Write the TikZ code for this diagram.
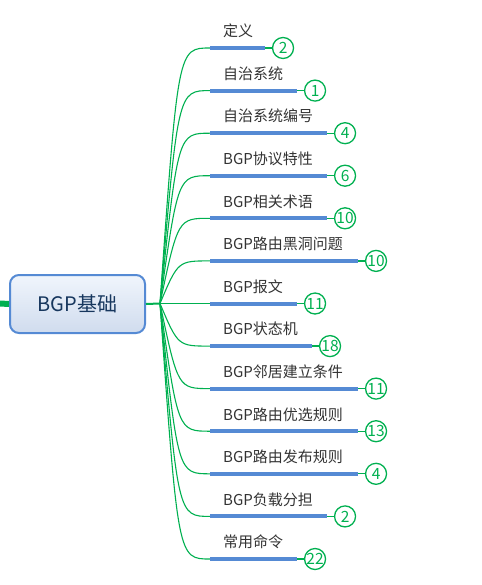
\documentclass[tikz,border=0pt]{standalone}
\usepackage{fontspec}
\newfontfamily\cjk{Noto Sans CJK SC}
\usetikzlibrary{positioning}
\definecolor{mmgreen}{RGB}{0,176,80}
\definecolor{mmblue}{RGB}{85,138,212}
\definecolor{mmnavy}{RGB}{23,55,94}
\definecolor{mmtop}{RGB}{240,245,252}
\definecolor{mmbottom}{RGB}{208,220,238}
\begin{document}
\begin{tikzpicture}[
  x=1pt, y=-1pt,
  root/.style={draw=mmblue, line width=2pt, rounded corners=9pt, minimum width=135pt, minimum height=58pt,
    top color=mmtop, bottom color=mmbottom, text=mmnavy, font=\cjk\fontsize{20}{24}\selectfont},
  topic/.style={anchor=south west, inner xsep=13pt, inner ysep=0pt, text width=#1, align=left,
    text height=12pt, text depth=11pt, text=black!80, font=\cjk\fontsize{15}{18}\selectfont}, % underline is the node bottom
  count/.style={circle, draw=mmgreen, line width=1.3pt, fill=white, minimum size=21pt, inner sep=0pt,
    text=mmgreen, font=\cjk\fontsize{15.5}{18}\selectfont},
  branch/.style={draw=mmgreen, line width=1.1pt},
  under/.style={draw=mmblue, line width=4pt},
  tick/.style={draw=mmgreen, line width=1.3pt}]

  \useasboundingbox (0,0) rectangle (481,585);

  \coordinate (stub) at (0,303.5);
  \coordinate (hub) at (160,303.5);
  \node[root] (root) at (77.5,304) {BGP基础};
  \draw[mmgreen, line width=6pt] (stub) -- (root.west);
  \draw[mmgreen, line width=2pt] (root.east) -- (hub);

  \node[topic=29pt] (t1) at (210,48) {定义};
  \node[topic=61pt] (t2) at (210,90.6) {自治系统};
  \node[topic=91pt] (t3) at (210,133.2) {自治系统编号};
  \node[topic=91pt] (t4) at (210,175.7) {BGP协议特性};
  \node[topic=91pt] (t5) at (210,218.3) {BGP相关术语};
  \node[topic=122pt] (t6) at (210,260.9) {BGP路由黑洞问题};
  \node[topic=61pt] (t7) at (210,303.5) {BGP报文};
  \node[topic=76pt] (t8) at (210,346.1) {BGP状态机};
  \node[topic=122pt] (t9) at (210,388.6) {BGP邻居建立条件};
  \node[topic=122pt] (t10) at (210,431.2) {BGP路由优选规则};
  \node[topic=122pt] (t11) at (210,473.8) {BGP路由发布规则};
  \node[topic=91pt] (t12) at (210,516.4) {BGP负载分担};
  \node[topic=61pt] (t13) at (210,559) {常用命令};

  % curves from the hub to each topic
  \draw[branch] (hub) .. controls ([xshift=-32pt]t1.south west) .. (t1.south west);
  \draw[branch] (hub) .. controls ([xshift=-32pt]t2.south west) .. (t2.south west);
  \draw[branch] (hub) .. controls ([xshift=-32pt]t3.south west) .. (t3.south west);
  \draw[branch] (hub) .. controls ([xshift=-32pt]t4.south west) .. (t4.south west);
  \draw[branch] (hub) .. controls ([xshift=-32pt]t5.south west) .. (t5.south west);
  \draw[branch] (hub) .. controls ([xshift=-32pt]t6.south west) .. (t6.south west);
  \draw[branch] (hub) -- (t7.south west);
  \draw[branch] (hub) .. controls ([xshift=-32pt]t8.south west) .. (t8.south west);
  \draw[branch] (hub) .. controls ([xshift=-32pt]t9.south west) .. (t9.south west);
  \draw[branch] (hub) .. controls ([xshift=-32pt]t10.south west) .. (t10.south west);
  \draw[branch] (hub) .. controls ([xshift=-32pt]t11.south west) .. (t11.south west);
  \draw[branch] (hub) .. controls ([xshift=-32pt]t12.south west) .. (t12.south west);
  \draw[branch] (hub) .. controls ([xshift=-32pt]t13.south west) .. (t13.south west);

  \draw[under] (t1.south west) -- (t1.south east);
  \draw[under] (t2.south west) -- (t2.south east);
  \draw[under] (t3.south west) -- (t3.south east);
  \draw[under] (t4.south west) -- (t4.south east);
  \draw[under] (t5.south west) -- (t5.south east);
  \draw[under] (t6.south west) -- (t6.south east);
  \draw[under] (t7.south west) -- (t7.south east);
  \draw[under] (t8.south west) -- (t8.south east);
  \draw[under] (t9.south west) -- (t9.south east);
  \draw[under] (t10.south west) -- (t10.south east);
  \draw[under] (t11.south west) -- (t11.south east);
  \draw[under] (t12.south west) -- (t12.south east);
  \draw[under] (t13.south west) -- (t13.south east);

  \node[count, right=6.5pt of t1.south east] (c1) {2};
  \node[count, right=6.5pt of t2.south east] (c2) {1};
  \node[count, right=6.5pt of t3.south east] (c3) {4};
  \node[count, right=6.5pt of t4.south east] (c4) {6};
  \node[count, right=6.5pt of t5.south east] (c5) {10};
  \node[count, right=6.5pt of t6.south east] (c6) {10};
  \node[count, right=6.5pt of t7.south east] (c7) {11};
  \node[count, right=6.5pt of t8.south east] (c8) {18};
  \node[count, right=6.5pt of t9.south east] (c9) {11};
  \node[count, right=6.5pt of t10.south east] (c10) {13};
  \node[count, right=6.5pt of t11.south east] (c11) {4};
  \node[count, right=6.5pt of t12.south east] (c12) {2};
  \node[count, right=6.5pt of t13.south east] (c13) {22};

  \draw[tick] (t1.south east) -- (c1);
  \draw[tick] (t2.south east) -- (c2);
  \draw[tick] (t3.south east) -- (c3);
  \draw[tick] (t4.south east) -- (c4);
  \draw[tick] (t5.south east) -- (c5);
  \draw[tick] (t6.south east) -- (c6);
  \draw[tick] (t7.south east) -- (c7);
  \draw[tick] (t8.south east) -- (c8);
  \draw[tick] (t9.south east) -- (c9);
  \draw[tick] (t10.south east) -- (c10);
  \draw[tick] (t11.south east) -- (c11);
  \draw[tick] (t12.south east) -- (c12);
  \draw[tick] (t13.south east) -- (c13);
\end{tikzpicture}
\end{document}
